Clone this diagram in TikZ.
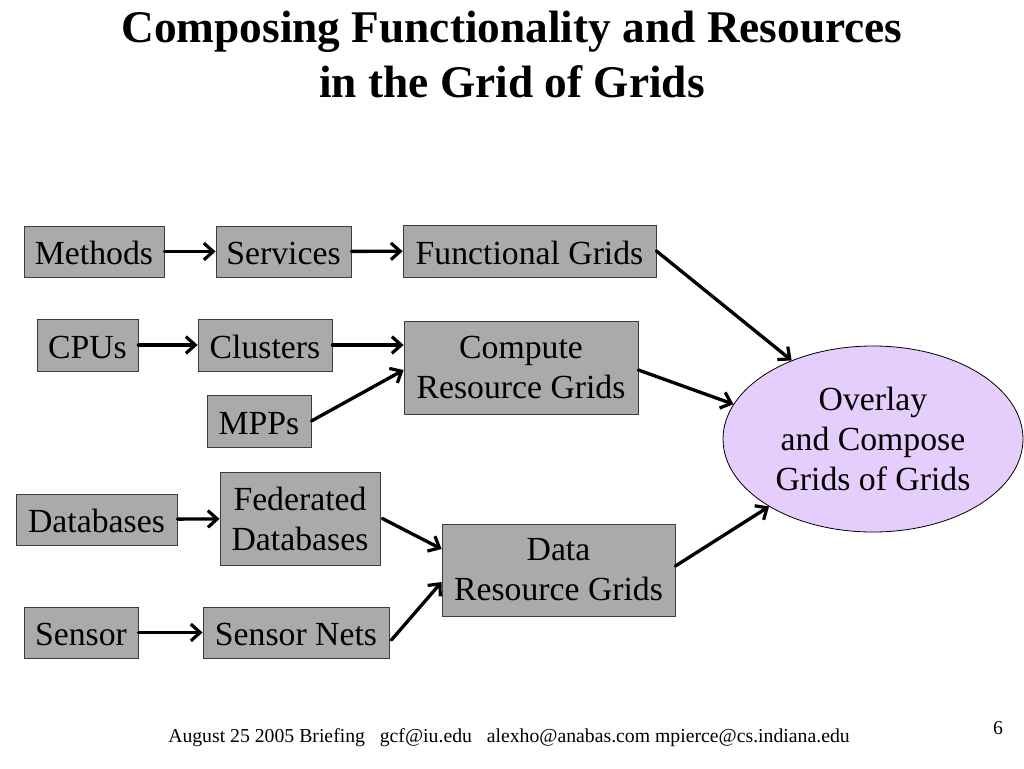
\documentclass[tikz,border=0pt]{standalone}
\usepackage{fontspec}
\setmainfont{Liberation Serif}
\usetikzlibrary{arrows.meta,shapes.geometric,calc}
\definecolor{boxgray}{RGB}{170,170,170}
\definecolor{boxline}{RGB}{60,60,60}
\definecolor{lav}{RGB}{230,206,252}
\begin{document}
\begin{tikzpicture}[x=0.75pt,y=-0.75pt,
  gbox/.style={draw=boxline,line width=0.6pt,fill=boxgray,inner sep=0pt,
    font=\fontsize{25.3}{30}\selectfont,align=center,
    execute at begin node={\rule{0pt}{20.25pt}}},
  conn/.style={line width=2.5pt,line cap=round,
    -{Straight Barb[length=7pt,width=12.5pt,line width=2.4pt]}},
  ttl/.style={font=\fontsize{34}{39}\selectfont\bfseries,align=center,inner sep=0pt}]
\useasboundingbox[fill=white] (0,0) rectangle (1024,768);
% title
\node[ttl,anchor=base] (t1) at (512,42) {Composing Functionality and Resources};
\node[ttl,anchor=base] (t2) at (512,97) {in the Grid of Grids};
% boxes
\node[gbox,minimum width=105pt,minimum height=38.25pt] (meth) at (94,251.5) {Methods};
\node[gbox,minimum width=101.25pt,minimum height=38.25pt] (serv) at (283.5,251.5) {Services};
\node[gbox,minimum width=189.75pt,minimum height=39pt] (fg) at (529.5,251) {Functional Grids};
\node[gbox,minimum width=75.75pt,minimum height=39pt] (cpu) at (87.5,345) {CPUs};
\node[gbox,minimum width=100.5pt,minimum height=39pt] (clu) at (265,345) {Clusters};
\node[gbox,minimum width=78pt,minimum height=39pt] (mpp) at (259,421) {MPPs};
\node[gbox,minimum width=175.5pt,minimum height=69.75pt] (crg) at (521,367.5) {Compute\\Resource Grids};
\node[gbox,minimum width=120.75pt,minimum height=38.25pt] (db) at (96.5,519.5) {Databases};
\node[gbox,minimum width=120pt,minimum height=69.75pt] (fdb) at (300,518.5) {Federated\\Databases};
\node[gbox,minimum width=174.75pt,minimum height=69pt] (drg) at (558.5,570) {Data\\Resource Grids};
\node[gbox,minimum width=85.5pt,minimum height=38.25pt] (sen) at (81,632.5) {Sensor};
\node[gbox,minimum width=139.5pt,minimum height=38.25pt] (sn) at (296,632.5) {Sensor Nets};
\node[ellipse,draw=black,line width=0.6pt,fill=lav,inner sep=0pt,
  minimum width=225pt,minimum height=139.5pt,align=center,
  font=\fontsize{25.3}{30}\selectfont,
  execute at begin node={\rule{0pt}{20.25pt}}] (ov) at (873,439) {Overlay\\and Compose\\Grids of Grids};
% connectors
\draw[conn] (meth) -- (serv);
\draw[conn] (serv) -- (fg);
\draw[conn] (cpu) -- (clu);
\draw[conn] (clu.east) -- (clu.east -| crg.west);
\draw[conn] (mpp.east) -- ($(crg.west)+(0,2.5)$);
\draw[conn] (fg.east) -- (ov.136);
\draw[conn] ($(crg.east)+(0,2.5)$) -- (ov.166);
\draw[conn] (db) -- (fdb);
\draw[conn] ($(fdb.east)+(2,0)$) -- ($(drg.west)+(0,-21)$);
\draw[conn] (sen) -- (sn);
\draw[conn] ($(sn.east)+(2,7.5)$) -- ($(drg.west)+(0,12)$);
\draw[conn] ($(drg.east)+(0,-4)$) -- (ov.213);
% footer
\node[anchor=base west,inner sep=0pt,font=\fontsize{14.8}{16}\selectfont] (foot) at (168,742)
  {August 25 2005 Briefing\hspace{0.75em}gcf@iu.edu\hspace{0.75em}alexho@anabas.com mpierce@cs.indiana.edu};
\node[anchor=base,inner sep=0pt,font=\fontsize{14.8}{16}\selectfont] (pg) at (998,734) {6};
\end{tikzpicture}
\end{document}
